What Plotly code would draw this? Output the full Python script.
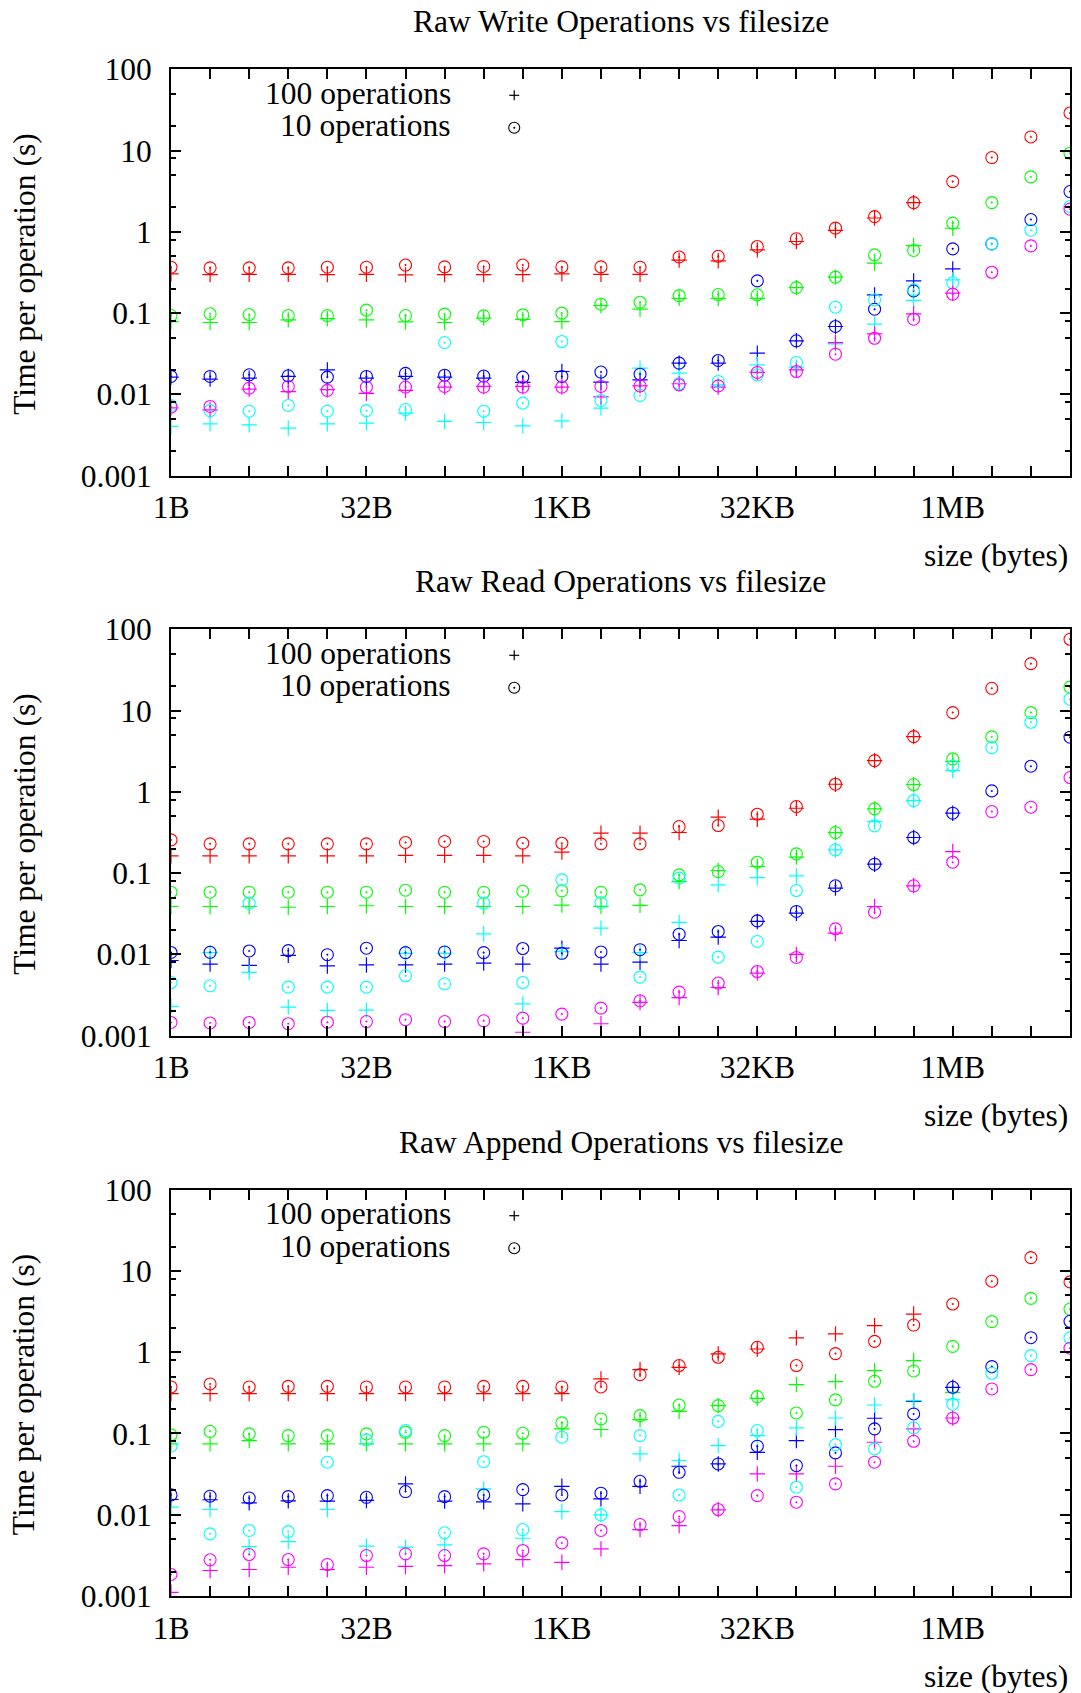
import plotly.graph_objects as go
import math

# ---------------- data ----------------
EXPONENTS = list(range(24))              # file size = 2**e bytes
SIZES = [2 ** e for e in EXPONENTS]
X_TICK_LABELS = {0: "1B", 5: "32B", 10: "1KB", 15: "32KB", 20: "1MB"}
Y_TICKS = [0.001, 0.01, 0.1, 1, 10, 100]
Y_TICK_TEXT = ["0.001", "0.01", "0.1", "1", "10", "100"]

SERIES_COLORS = ["#ff0000", "#00ff00", "#0000ff", "#00ffff", "#ff00ff"]
N = None

# ---- Raw Write ----
write_red_10 = [0.367, 0.36, 0.36, 0.36, 0.367, 0.367, 0.39, 0.37, 0.375, 0.39, 0.37, 0.37,
                0.367, 0.49, 0.50, 0.66, 0.82, 1.11, 1.54, 2.29, 4.15, 8.2, 14.7, 29.0]
write_red_100 = [0.304, 0.298, 0.30, 0.30, 0.298, 0.30, 0.295, 0.298, 0.298, 0.298, 0.304, 0.30,
                 0.30, 0.448, 0.44, 0.60, 0.76, 1.04, 1.48, 2.29, N, N, N, N]
write_green_10 = [0.0933, 0.098, 0.096, 0.0933, 0.0933, 0.1086, 0.0933, 0.097, 0.0925, 0.095, 0.10, 0.1286,
                  0.136, 0.164, 0.169, 0.168, 0.206, 0.277, 0.52, 0.59, 1.28, 2.29, 4.74, 9.27]
write_green_100 = [0.0787, 0.0766, 0.0766, 0.0826, 0.0857, 0.0826, 0.0778, 0.0766, 0.0866, 0.0835, 0.0787, 0.124,
                   0.1117, 0.152, 0.152, 0.152, 0.206, 0.277, 0.411, 0.678, 1.107, N, N, N]
write_blue_10 = [0.0166, 0.0166, 0.0174, 0.0169, 0.0163, 0.0166, 0.0181, 0.0172, 0.0168, 0.0163, 0.0166, 0.0188,
                 0.0177, 0.0242, 0.0261, 0.249, 0.0456, 0.0684, 0.1117, 0.1876, 0.617, 0.711, 1.416, 3.13]
write_blue_100 = [0.0163, 0.0154, 0.0158, 0.0166, 0.020, 0.0158, 0.0166, 0.0163, 0.0158, 0.014, 0.0191, 0.0141,
                  0.0151, 0.0242, 0.0242, 0.0321, 0.0456, 0.0684, 0.1676, 0.249, 0.35, N, N, N]
write_cyan_10 = [0.0073, 0.0063, 0.0062, 0.0073, 0.0062, 0.0063, 0.0065, 0.0434, 0.0062, 0.0078, 0.0447, 0.0084,
                 0.0097, 0.0135, 0.0144, 0.0174, 0.0247, 0.118, 0.1455, 0.193, 0.236, 0.711, 1.047, 2.05]
write_cyan_100 = [0.00403, 0.00434, 0.00422, 0.00384, 0.00434, 0.00443, 0.00587, 0.00464, 0.0045, 0.0041, 0.00472, 0.00676,
                  0.021, 0.0182, 0.0131, 0.0231, 0.0216, 0.0418, 0.073, 0.143, 0.256, N, N, N]
write_magenta_10 = [0.00696, 0.0071, 0.0119, 0.0125, 0.0112, 0.0123, 0.0123, 0.0125, 0.0123, 0.0123, 0.0123, 0.0125,
                    0.0127, 0.0131, 0.0127, 0.0186, 0.0191, 0.0312, 0.049, 0.084, 0.171, 0.318, 0.671, 1.90]
write_magenta_100 = [0.0068, 0.00645, 0.0116, 0.0108, 0.0114, 0.0103, 0.0112, 0.0123, 0.0125, 0.0125, 0.0123, 0.0093,
                     0.0127, 0.0135, 0.0123, 0.0186, 0.020, 0.0434, 0.0555, 0.098, 0.176, N, N, N]

# ---- Raw Read ----
read_red_10 = [0.256, 0.229, 0.229, 0.229, 0.229, 0.229, 0.238, 0.245, 0.245, 0.233, 0.233, 0.229,
               0.229, 0.374, 0.385, 0.53, 0.659, 1.24, 2.42, 4.78, 9.44, 18.8, 37.8, 75.4]
read_red_100 = [0.163, 0.163, 0.163, 0.163, 0.163, 0.163, 0.165, 0.165, 0.165, 0.163, 0.181, 0.31,
                0.31, 0.316, 0.487, 0.46, 0.628, 1.24, 2.42, 4.78, N, N, N, N]
read_green_10 = [0.0582, 0.0582, 0.0582, 0.0582, 0.0582, 0.0582, 0.0616, 0.058, 0.058, 0.0597, 0.0605, 0.058,
                 0.0622, 0.095, 0.1045, 0.136, 0.1725, 0.3155, 0.617, 1.23, 2.54, 4.74, 9.44, 19.4]
read_green_100 = [0.0388, 0.0388, 0.0388, 0.038, 0.0388, 0.0396, 0.0388, 0.0388, 0.0388, 0.0388, 0.0403, 0.039,
                  0.04, 0.0787, 0.1076, 0.1205, 0.157, 0.3155, 0.617, 1.23, 2.36, N, N, N]
read_blue_10 = [0.01054, 0.0106, 0.011, 0.0111, 0.0099, 0.0119, 0.0105, 0.0107, 0.0105, 0.0118, 0.0103, 0.0107,
                0.0114, 0.0177, 0.0191, 0.0258, 0.0337, 0.0697, 0.1286, 0.274, 0.546, 1.026, 2.065, 4.7]
read_blue_100 = [0.0084, 0.0076, 0.0073, 0.0097, 0.0072, 0.0074, 0.0074, 0.0076, 0.0078, 0.0076, 0.0119, 0.0076,
                 0.008, 0.0148, 0.0163, 0.0254, 0.0321, 0.0652, 0.1286, 0.274, 0.546, N, N, N]
read_cyan_10 = [0.0045, 0.0041, 0.0427, 0.00395, 0.00395, 0.00395, 0.00545, 0.00434, 0.0427, 0.0045, 0.0826, 0.0434,
                0.00525, 0.0866, 0.00924, 0.0144, 0.061, 0.193, 0.381, 0.78, 2.08, 3.5, 7.18, 13.8]
read_cyan_100 = [0.00229, 0.0105, 0.006, 0.00224, 0.00204, 0.00206, 0.0103, 0.0103, 0.0179, 0.00246, 0.0108, 0.021,
                 0.0105, 0.0247, 0.0717, 0.088, 0.0925, 0.193, 0.43, 0.78, 1.83, N, N, N]
read_magenta_10 = [0.00145, 0.00143, 0.00145, 0.0014, 0.00146, 0.00149, 0.00157, 0.00149, 0.00152, 0.00164, 0.00184, 0.00218,
                   0.00268, 0.00343, 0.00443, 0.00615, 0.00915, 0.0206, 0.033, 0.0697, 0.136, 0.572, 0.647, 1.50]
read_magenta_100 = [N, N, N, N, N, N, N, N, N, 0.0011, N, 0.0014,
                    0.00256, 0.00294, 0.00391, 0.00587, 0.01, 0.0182, 0.0388, 0.0697, 0.184, N, N, N]

# ---- Raw Append ----
append_red_10 = [0.374, 0.407, 0.374, 0.38, 0.38, 0.374, 0.374, 0.374, 0.38, 0.38, 0.374, 0.374,
                 0.53, 0.686, 0.867, 1.15, 0.686, 0.962, 1.36, 2.16, 3.92, 7.48, 14.6, 7.33]
append_red_100 = [0.31, 0.31, 0.31, 0.31, 0.31, 0.31, 0.31, 0.31, 0.31, 0.31, 0.31, 0.469,
                  0.611, 0.65, 0.953, 1.096, 1.50, 1.68, 2.12, 2.95, N, N, N, N]
append_green_10 = [0.096, 0.1064, 0.0988, 0.0942, 0.0942, 0.0988, 0.1035, 0.0942, 0.1035, 0.1006, 0.135, 0.151,
                   0.166, 0.224, 0.22, 0.284, 0.179, 0.259, 0.439, 0.588, 1.18, 2.38, 4.6, 3.4]
append_green_100 = [0.0745, 0.0745, 0.0819, 0.0745, 0.0745, 0.0745, 0.0745, 0.0745, 0.0745, 0.0745, 0.114, 0.112,
                    0.148, 0.1876, 0.22, 0.271, 0.40, 0.435, 0.594, 0.79, 0.32, N, N, N]
append_blue_10 = [0.01754, 0.0169, 0.0161, 0.0167, 0.0172, 0.0164, 0.0193, 0.0167, 0.0175, 0.0204, 0.0175, 0.0184,
                  0.0258, 0.0333, 0.0422, 0.0697, 0.0403, 0.0577, 0.114, 0.174, 0.37, 0.665, 1.51, 2.40]
append_blue_100 = [0.0154, 0.0153, 0.014, 0.0148, 0.0147, 0.015, 0.024, 0.0147, 0.0144, 0.0136, 0.0224, 0.0157,
                   0.0224, 0.0395, 0.0422, 0.0587, 0.0819, 0.1117, 0.154, 0.249, 0.37, N, N, N]
append_cyan_10 = [0.0697, 0.00582, 0.0064, 0.0062, 0.0443, 0.0834, 0.1086, 0.006, 0.0449, 0.00657, 0.09, 0.00995,
                  0.0942, 0.0175, 0.141, 0.1086, 0.0218, 0.073, 0.0646, 0.117, 0.229, 0.551, 0.908, 1.50]
append_cyan_100 = [0.0124, 0.0116, 0.00406, 0.00468, 0.0116, 0.0041, 0.00399, 0.00426, 0.0208, 0.00514, 0.0109, 0.00995,
                   0.0561, 0.0465, 0.071, 0.094, 0.117, 0.155, 0.224, 0.254, 0.26, N, N, N]
append_magenta_10 = [0.00184, 0.00279, 0.00324, 0.00281, 0.00244, 0.00315, 0.0033, 0.00315, 0.0033, 0.00363, 0.0045, 0.0064,
                     0.00757, 0.0095, 0.0116, 0.0172, 0.01426, 0.024, 0.0443, 0.0802, 0.155, 0.353, 0.611, 1.12]
append_magenta_100 = [0.00111, 0.00206, 0.00212, 0.00226, 0.00212, 0.00226, 0.00231, 0.00237, 0.00249, 0.00281, 0.0026, 0.0038,
                      0.00657, 0.00736, 0.0115, 0.0318, 0.0318, 0.0395, 0.078, 0.114, 0.155, N, N, N]

PANEL_TITLES = ["Raw Write Operations vs filesize",
                "Raw Read Operations vs filesize",
                "Raw Append Operations vs filesize"]
PANEL_DATA = [
    ([write_red_100, write_green_100, write_blue_100, write_cyan_100, write_magenta_100],
     [write_red_10, write_green_10, write_blue_10, write_cyan_10, write_magenta_10]),
    ([read_red_100, read_green_100, read_blue_100, read_cyan_100, read_magenta_100],
     [read_red_10, read_green_10, read_blue_10, read_cyan_10, read_magenta_10]),
    ([append_red_100, append_green_100, append_blue_100, append_cyan_100, append_magenta_100],
     [append_red_10, append_green_10, append_blue_10, append_cyan_10, append_magenta_10]),
]
LEGEND_LABELS = ["100 operations", "10 operations"]
X_TITLE = "size (bytes)"
Y_TITLE = "Time per operation (s)"

# ---------------- layout geometry (pixels) ----------------
W, H = 1081, 1693
ML, MR, MT, MB = 171, 9, 69, 97
PW, PH = W - ML - MR, H - MT - MB
PANEL_TOPS = [69.3, 629.3, 1189.7]
PANEL_H = 406.3
FONT = "Liberation Serif, Times New Roman, serif"
FS = 31.5


def py2paper(py):
    return (H - MB - py) / PH


def px2paper(px):
    return (px - ML) / PW


fig = go.Figure()
annotations = []
shapes = []

x_ticktext = [X_TICK_LABELS.get(e, "") for e in EXPONENTS]
minor_y = [m * 10 ** k for k in range(-3, 2) for m in (2, 5)] + [8 * 10 ** k for k in range(-3, 1)]

for p in range(3):
    ax = "" if p == 0 else str(p + 1)
    plus_sets, circle_sets = PANEL_DATA[p]
    for c, ys in enumerate(plus_sets):
        fig.add_trace(go.Scatter(
            x=SIZES, y=ys, mode="markers", xaxis="x" + ax, yaxis="y" + ax,
            showlegend=False, cliponaxis=True,
            marker=dict(symbol="cross-thin", size=11, color=SERIES_COLORS[c],
                        line=dict(width=1.2, color=SERIES_COLORS[c]))))
    for c, ys in enumerate(circle_sets):
        fig.add_trace(go.Scatter(
            x=SIZES, y=ys, mode="markers", xaxis="x" + ax, yaxis="y" + ax,
            showlegend=False, cliponaxis=True,
            marker=dict(symbol="circle-open-dot", size=12, color=SERIES_COLORS[c],
                        line=dict(width=1.1, color=SERIES_COLORS[c]))))

    top = PANEL_TOPS[p]
    bot = top + PANEL_H
    dom = [py2paper(bot), py2paper(top)]
    xa = dict(type="log", range=[0, math.log10(SIZES[-1])], domain=[0, 1],
              anchor="y" + ax, tickvals=SIZES, ticktext=x_ticktext,
              ticks="inside", ticklen=10, tickwidth=1.5, tickcolor="black",
              showline=True, linewidth=2, linecolor="black", mirror="ticks",
              showgrid=False, zeroline=False, ticklabelstandoff=3,
              tickfont=dict(family=FONT, size=FS, color="black"))
    ya = dict(type="log", range=[-3, 2], domain=dom, anchor="x" + ax,
              tickvals=Y_TICKS, ticktext=Y_TICK_TEXT,
              ticks="inside", ticklen=10, tickwidth=1.5, tickcolor="black",
              minor=dict(tickvals=minor_y, ticks="inside", ticklen=5, tickwidth=1.5,
                         tickcolor="black", showgrid=False),
              showline=True, linewidth=2, linecolor="black", mirror="ticks",
              showgrid=False, zeroline=False, ticklabelstandoff=11,
              tickfont=dict(family=FONT, size=FS, color="black"))
    fig.layout["xaxis" + ax] = xa
    fig.layout["yaxis" + ax] = ya

    # title
    annotations.append(dict(text=PANEL_TITLES[p], xref="paper", yref="paper",
                            x=px2paper(622), y=py2paper(top - 47.5), xanchor="center",
                            yanchor="middle", showarrow=False,
                            font=dict(family=FONT, size=FS, color="black")))
    # y-axis title
    annotations.append(dict(text=Y_TITLE, xref="paper", yref="paper",
                            x=px2paper(24), y=py2paper(top + PANEL_H / 2 + 2), xanchor="center",
                            yanchor="middle", textangle=-90, showarrow=False,
                            font=dict(family=FONT, size=FS, color="black")))
    # x-axis title
    annotations.append(dict(text=X_TITLE, xref="paper", yref="paper",
                            x=px2paper(1072), y=py2paper(bot + 80), xanchor="right",
                            yanchor="middle", showarrow=False,
                            font=dict(family=FONT, size=FS, color="black")))
    # key
    for k, lab in enumerate(LEGEND_LABELS):
        ky = top + 24 + 32.5 * k
        annotations.append(dict(text=lab, xref="paper", yref="paper",
                                x=px2paper(454), y=py2paper(ky), xanchor="right",
                                yanchor="middle", showarrow=False,
                                font=dict(family=FONT, size=FS, color="black")))
        kx, kyp = px2paper(515), py2paper(ky + 2)
        if k == 0:
            shapes.append(dict(type="line", xref="paper", yref="paper", xsizemode="pixel",
                               ysizemode="pixel", xanchor=kx, yanchor=kyp,
                               x0=-5, x1=5, y0=0, y1=0, line=dict(color="black", width=1.2)))
            shapes.append(dict(type="line", xref="paper", yref="paper", xsizemode="pixel",
                               ysizemode="pixel", xanchor=kx, yanchor=kyp,
                               x0=0, x1=0, y0=-5, y1=5, line=dict(color="black", width=1.2)))
        else:
            shapes.append(dict(type="circle", xref="paper", yref="paper", xsizemode="pixel",
                               ysizemode="pixel", xanchor=kx, yanchor=kyp,
                               x0=-5.5, x1=5.5, y0=-5.5, y1=5.5, line=dict(color="black", width=1.1)))
            shapes.append(dict(type="circle", xref="paper", yref="paper", xsizemode="pixel",
                               ysizemode="pixel", xanchor=kx, yanchor=kyp,
                               x0=-1, x1=1, y0=-1, y1=1, fillcolor="black",
                               line=dict(color="black", width=0)))

fig.update_layout(width=W, height=H, margin=dict(l=ML, r=MR, t=MT, b=MB),
                  paper_bgcolor="white", plot_bgcolor="white",
                  showlegend=False, annotations=annotations, shapes=shapes,
                  font=dict(family=FONT, size=FS, color="black"))

fig.write_html("out.html")
